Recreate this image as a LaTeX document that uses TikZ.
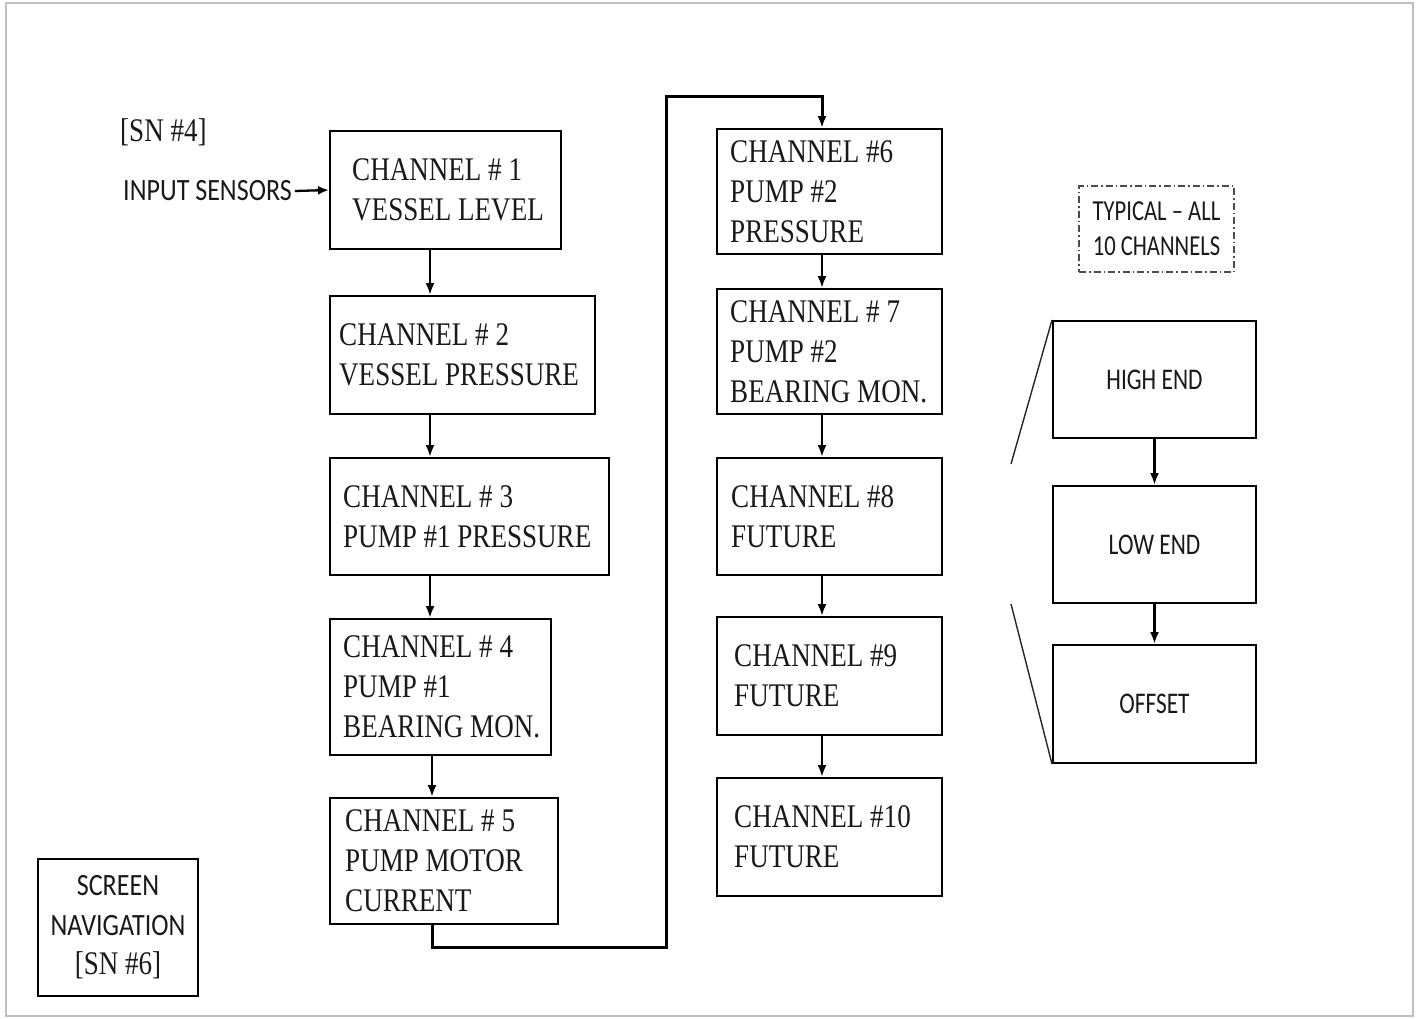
\documentclass[tikz,border=0pt]{standalone}
\usepackage{fontspec}
\usetikzlibrary{arrows.meta}
\newfontfamily\serifc[FakeStretch=0.82]{Liberation Serif}
\newfontfamily\sansc[FakeStretch=0.84]{Carlito}
\newfontfamily\sansn[FakeStretch=0.78]{Carlito}
\tikzset{
  chbox/.style={draw=black, line width=2pt, inner sep=0pt, fill=white},
  chtext/.style={anchor=west, align=left, inner sep=0pt, text=black!90,
    font=\serifc\fontsize{33pt}{40pt}\selectfont},
  subbox/.style={draw=black, line width=2pt, inner sep=0pt, minimum width=203pt,
    text=black!90, font=\sansn\fontsize{30pt}{35pt}\selectfont},
  arr/.style={line width=2.3pt, -{Latex[length=12pt,width=9pt]}},
  looparr/.style={line width=3pt, -{Latex[length=12pt,width=9pt]}},
  thin/.style={line width=1.4pt, draw=black!85},
}
\begin{document}
\begin{tikzpicture}[x=1pt, y=-1pt]
\useasboundingbox (0,0) rectangle (1416,1018);
\draw[black!25, line width=2pt] (6,3) rectangle (1413,1016);

% column coordinates
\coordinate (colA) at (430,0);
\coordinate (colA5) at (432,0);
\coordinate (colB) at (822,0);

% left column boxes
\node[chbox, minimum width=231pt, minimum height=118pt] (c1) at (445.5,190) {};
\node[chtext] (t1) at (352,190) {CHANNEL \# 1\\VESSEL LEVEL};
\node[chbox, minimum width=265pt, minimum height=118pt] (c2) at (462.5,355) {};
\node[chtext] (t2) at (339,355) {CHANNEL \# 2\\VESSEL PRESSURE};
\node[chbox, minimum width=279pt, minimum height=117pt] (c3) at (469.5,516.5) {};
\node[chtext] (t3) at (343,516.5) {CHANNEL \# 3\\PUMP \#1 PRESSURE};
\node[chbox, minimum width=221pt, minimum height=136pt] (c4) at (440.5,687) {};
\node[chtext] (t4) at (343,687) {CHANNEL \# 4\\PUMP \#1\\BEARING MON.};
\node[chbox, minimum width=228pt, minimum height=126pt] (c5) at (444,861) {};
\node[chtext] (t5) at (345,861) {CHANNEL \# 5\\PUMP MOTOR\\CURRENT};

% right column boxes
\node[chbox, minimum width=225pt, minimum height=125pt] (c6) at (829.5,191.5) {};
\node[chtext] (t6) at (730,191.5) {CHANNEL \#6\\PUMP \#2\\PRESSURE};
\node[chbox, minimum width=225pt, minimum height=125pt] (c7) at (829.5,351.5) {};
\node[chtext] (t7) at (730,351.5) {CHANNEL \# 7\\PUMP \#2\\BEARING MON.};
\node[chbox, minimum width=225pt, minimum height=117pt] (c8) at (829.5,516.5) {};
\node[chtext] (t8) at (731,516.5) {CHANNEL \#8\\FUTURE};
\node[chbox, minimum width=225pt, minimum height=118pt] (c9) at (829.5,676) {};
\node[chtext] (t9) at (734,676) {CHANNEL \#9\\FUTURE};
\node[chbox, minimum width=225pt, minimum height=118pt] (c10) at (829.5,837) {};
\node[chtext] (t10) at (734,837) {CHANNEL \#10\\FUTURE};

% labels
\node[anchor=west, inner sep=0pt, text=black!90, font=\serifc\fontsize{33pt}{36pt}\selectfont] (sn4) at (120,132) {[SN \#4]};
\node[anchor=west, inner sep=0pt, text=black!90, font=\sansc\fontsize{31pt}{36pt}\selectfont] (ins) at (123,191) {INPUT SENSORS};

% typical boxes
\node[draw=black!70, line width=1.3pt, dash pattern=on 7pt off 3pt on 1.5pt off 3pt,
  minimum width=155pt, minimum height=86pt, align=center, inner sep=0pt, text=black!90,
  font=\sansn\fontsize{29pt}{35pt}\selectfont] (typ) at (1156.5,229) {TYPICAL – ALL\\10 CHANNELS};
\node[subbox, minimum height=117pt] (high) at (1154.5,379.5) {HIGH END};
\node[subbox, minimum height=117pt] (low) at (1154.5,544.5) {LOW END};
\node[subbox, minimum height=118pt] (off) at (1154.5,704) {OFFSET};
\coordinate (d1) at (1011,464);
\coordinate (d2) at (1011,604);
\draw[thin] (high.north west) -- (d1);
\draw[thin] (d2) -- (off.south west);

% screen navigation
\node[draw=black, line width=2pt, minimum width=160pt, minimum height=137pt, inner sep=0pt,
  align=center, text=black!90, font=\sansc\fontsize{31pt}{39.5pt}\selectfont] (nav) at (118,927.5)
  {SCREEN\\NAVIGATION\\\serifc\fontsize{33pt}{39.5pt}\selectfont [SN \#6]};

% connectors
\draw[line width=2.3pt, -{Latex[length=11pt,width=9pt]}] ([xshift=3pt]ins.east) -- (c1.west);
\draw[arr] (c1.south -| colA) -- (c2.north -| colA);
\draw[arr] (c2.south -| colA) -- (c3.north -| colA);
\draw[arr] (c3.south -| colA) -- (c4.north -| colA);
\draw[arr] (c4.south -| colA5) -- (c5.north -| colA5);
\coordinate (lb) at (666,947);
\coordinate (lt) at (666,96);
\draw[looparr] (c5.south -| colA5) |- (lb) -- (lt) -| (c6.north -| colB);
\draw[arr] (c6.south -| colB) -- (c7.north -| colB);
\draw[arr] (c7.south -| colB) -- (c8.north -| colB);
\draw[arr] (c8.south -| colB) -- (c9.north -| colB);
\draw[arr] (c9.south -| colB) -- (c10.north -| colB);
\draw[arr] (high.south) -- (low.north);
\draw[arr] (low.south) -- (off.north);
\end{tikzpicture}
\end{document}
